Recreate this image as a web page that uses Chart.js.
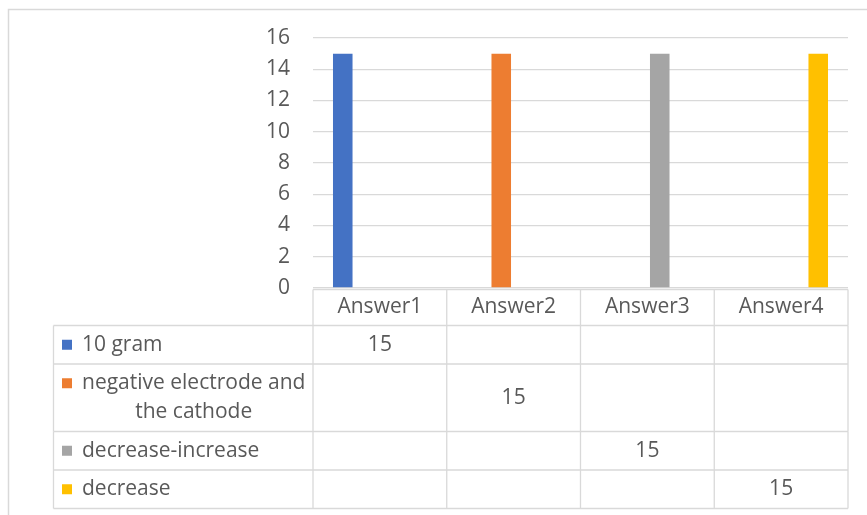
<!DOCTYPE html>
<html>
<head>
<meta charset="utf-8">
<script src="https://cdn.jsdelivr.net/npm/chart.js@4"></script>
<style>
  html, body { margin: 0; padding: 0; background: #fff; }
</style>
</head>
<body>
<canvas id="answersChart" width="867" height="515"></canvas>
<script>
const categories = ['Answer1', 'Answer2', 'Answer3', 'Answer4'];
const seriesNames = ['10 gram', 'negative electrode and the cathode', 'decrease-increase', 'decrease'];
const gram10 = [15, null, null, null];
const electrodeCathode = [null, 15, null, null];
const decreaseIncrease = [null, null, 15, null];
const decrease = [null, null, null, 15];
const yTicks = [0, 2, 4, 6, 8, 10, 12, 14, 16];

const seriesColors = ['#4472C4', '#ED7D31', '#A5A5A5', '#FFC000'];
const textColor = '#595959';
const lineColor = '#D9D9D9';
const fontFamily = '"Open Sans", "Noto Sans", sans-serif';
const fontSize = 21;

// frame around the whole chart (only left and top edges show)
const frame = {
    id: 'frame',
    beforeDraw(chart) {
        const ctx = chart.ctx;
        ctx.save();
        ctx.strokeStyle = lineColor;
        ctx.lineWidth = 1.5;
        ctx.strokeRect(8.5, 9.5, chart.width + 20, chart.height + 20);
        ctx.restore();
    }
};

function wrapText(ctx, text, maxWidth) {
    const words = text.split(' ');
    const lines = [];
    let line = '';
    words.forEach(w => {
        const test = line ? line + ' ' + w : w;
        if (ctx.measureText(test).width > maxWidth && line) {
            lines.push(line);
            line = w;
        } else {
            line = test;
        }
    });
    lines.push(line);
    return lines;
}

// data table under the plot, columns follow the category scale
const dataTable = {
    id: 'dataTable',
    afterDraw(chart) {
        const ctx = chart.ctx;
        const x = chart.scales.x;
        const area = chart.chartArea;
        const colW = (area.right - area.left) / categories.length;
        const tableLeft = 53.5;
        const swatchX = 62;
        const labelX = 82;
        const headerTop = area.bottom + 1.5;
        const headerH = 36;
        const lineH = 29;

        ctx.save();
        ctx.font = fontSize + 'px ' + fontFamily;
        ctx.fillStyle = textColor;
        ctx.strokeStyle = lineColor;
        ctx.lineWidth = 1.3;
        ctx.textBaseline = 'middle';

        // header row
        const headerBottom = headerTop + headerH;
        ctx.beginPath();
        ctx.moveTo(area.left, headerTop);
        ctx.lineTo(area.right, headerTop);
        for (let i = 0; i <= categories.length; i++) {
            const cx = area.left + i * colW;
            ctx.moveTo(cx, headerTop);
            ctx.lineTo(cx, headerBottom);
        }
        ctx.stroke();
        ctx.textAlign = 'center';
        categories.forEach((c, i) => {
            ctx.fillText(c, x.getPixelForValue(i), headerTop + headerH / 2);
        });

        // series rows
        let top = headerBottom;
        chart.data.datasets.forEach((ds, r) => {
            const lines = wrapText(ctx, seriesNames[r], 232);
            const h = 38.5 + (lines.length - 1) * lineH;
            const mid = top + h / 2;

            ctx.beginPath();
            ctx.moveTo(tableLeft, top);
            ctx.lineTo(area.right, top);
            ctx.moveTo(tableLeft, top);
            ctx.lineTo(tableLeft, top + h);
            for (let i = 0; i <= categories.length; i++) {
                const cx = area.left + i * colW;
                ctx.moveTo(cx, top);
                ctx.lineTo(cx, top + h);
            }
            ctx.stroke();

            const firstY = mid - (lines.length - 1) * lineH / 2;
            ctx.fillStyle = seriesColors[r];
            ctx.fillRect(swatchX, firstY - 5, 10, 10);
            ctx.fillStyle = textColor;
            ctx.textAlign = 'left';
            ctx.fillText(lines[0], labelX, firstY);
            const firstCenter = labelX + ctx.measureText(lines[0]).width / 2;
            ctx.textAlign = 'center';
            for (let k = 1; k < lines.length; k++) {
                ctx.fillText(lines[k], firstCenter, firstY + k * lineH);
            }

            ds.data.forEach((v, i) => {
                if (v !== null) ctx.fillText(String(v), x.getPixelForValue(i), mid);
            });
            top += h;
        });
        ctx.beginPath();
        ctx.moveTo(tableLeft, top);
        ctx.lineTo(area.right, top);
        ctx.stroke();
        ctx.restore();
    }
};

const seriesData = [gram10, electrodeCathode, decreaseIncrease, decrease];

new Chart(document.getElementById('answersChart'), {
    type: 'bar',
    data: {
        labels: categories,
        datasets: seriesData.map((d, i) => ({
            label: seriesNames[i],
            data: d,
            backgroundColor: seriesColors[i],
            categoryPercentage: 0.74,
            barPercentage: 0.79
        }))
    },
    options: {
        responsive: false,
        animation: false,
        layout: { padding: { left: 0, top: 38, right: 19, bottom: 0 } },
        plugins: {
            legend: { display: false },
            tooltip: { enabled: false }
        },
        scales: {
            x: {
                grid: { display: false },
                border: { display: false },
                ticks: { display: false },
                afterFit(scale) { scale.height = 515 - 288; }
            },
            y: {
                min: 0,
                max: 16,
                afterFit(scale) { scale.width = 313; },
                afterBuildTicks(scale) { scale.ticks = yTicks.map(v => ({ value: v })); },
                grid: { color: lineColor, lineWidth: 1.3, drawTicks: false },
                border: { display: false },
                ticks: {
                    padding: 23,
                    color: textColor,
                    font: { family: fontFamily, size: fontSize }
                }
            }
        }
    },
    plugins: [frame, dataTable]
});
</script>
</body>
</html>
